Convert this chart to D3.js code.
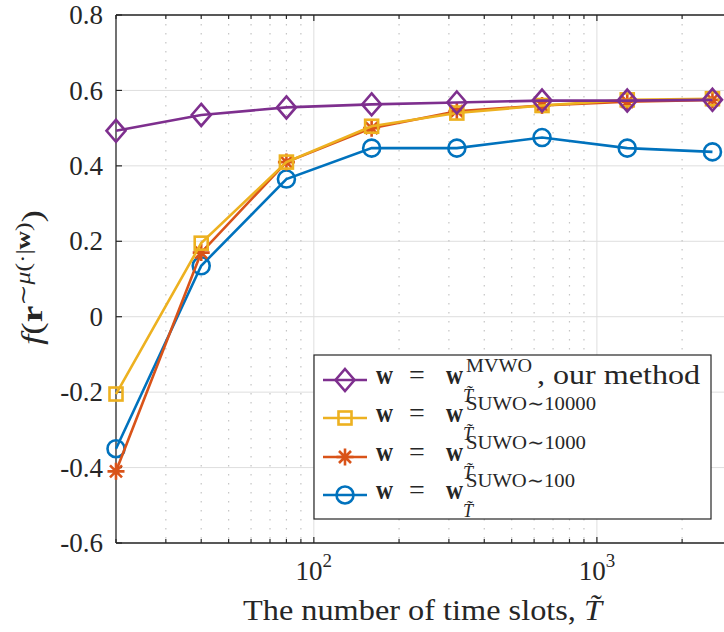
<!DOCTYPE html>
<html lang="en">
<head>
<meta charset="UTF-8">
<title>MVWO vs SUWO</title>
<script src="https://d3js.org/d3.v7.min.js"></script>
<style>
  body { margin: 0; background: #fff; }
  svg { display: block; }
  text { font-family: "Liberation Serif", "DejaVu Serif", serif; fill: #262626; }
</style>
</head>
<body>
<div class="chart"></div>
<script>
  /** data */
  var timeSlots = [20, 40, 80, 160, 320, 640, 1280, 2560];
  var mvwo = [0.493, 0.535, 0.555, 0.563, 0.568, 0.573, 0.573, 0.575];
  var suwo10000 = [-0.205, 0.195, 0.41, 0.505, 0.54, 0.56, 0.575, 0.578];
  var suwo1000 = [-0.41, 0.17, 0.41, 0.50, 0.545, 0.56, 0.57, 0.575];
  var suwo100 = [-0.35, 0.135, 0.365, 0.447, 0.447, 0.475, 0.447, 0.437];
  var yTicks = [-0.6, -0.4, -0.2, 0, 0.2, 0.4, 0.6, 0.8];
  var yTickLabels = ['-0.6', '-0.4', '-0.2', '0', '0.2', '0.4', '0.6', '0.8'];
  var xMajorTicks = [100, 1000];
  var xMinorTicks = [20, 30, 40, 50, 60, 70, 80, 90, 200, 300, 400, 500, 600, 700, 800, 900, 2000];

  var series = [
    { values: suwo100, color: '#0072BD', marker: 'circle', sup: 'SUWO\u223C100', supLen: 109 },
    { values: suwo1000, color: '#D95319', marker: 'star', sup: 'SUWO\u223C1000', supLen: 120 },
    { values: suwo10000, color: '#EDB120', marker: 'square', sup: 'SUWO\u223C10000', supLen: 130 },
    { values: mvwo, color: '#7E2F8E', marker: 'diamond', sup: 'MVWO', supLen: 66 }
  ];

  var width = 724, height = 632;
  var plotLeft = 116, plotTop = 15, plotBottom = 543, plotRight = 724;

  var svg = d3.select('.chart').append('svg')
    .attr('width', width)
    .attr('height', height);

  var x = d3.scaleLog().domain([20, 2812]).range([plotLeft, plotRight]);
  var y = d3.scaleLinear().domain([-0.6, 0.8]).range([plotBottom, plotTop]);

  /** grid */
  var grid = svg.append('g');
  grid.selectAll('.ygrid').data(yTicks).enter().append('line')
    .attr('x1', plotLeft).attr('x2', plotRight)
    .attr('y1', function (d) { return y(d); }).attr('y2', function (d) { return y(d); })
    .attr('stroke', '#dedede').attr('stroke-width', 1);
  grid.selectAll('.xgrid').data(xMajorTicks).enter().append('line')
    .attr('x1', function (d) { return x(d); }).attr('x2', function (d) { return x(d); })
    .attr('y1', plotTop).attr('y2', plotBottom)
    .attr('stroke', '#dedede').attr('stroke-width', 1);
  grid.selectAll('.xminor').data(xMinorTicks.filter(function (d) { return d > 20; })).enter().append('line')
    .attr('x1', function (d) { return x(d); }).attr('x2', function (d) { return x(d); })
    .attr('y1', plotTop).attr('y2', plotBottom)
    .attr('stroke', '#c4c4c4').attr('stroke-width', 1.2)
    .attr('stroke-dasharray', '1.5,7.5');

  /** axes lines + ticks */
  var axisColor = '#262626';
  svg.append('line').attr('x1', plotLeft).attr('x2', plotLeft).attr('y1', plotTop).attr('y2', plotBottom)
    .attr('stroke', axisColor).attr('stroke-width', 1.3);
  svg.append('line').attr('x1', plotLeft).attr('x2', plotRight).attr('y1', plotBottom).attr('y2', plotBottom)
    .attr('stroke', axisColor).attr('stroke-width', 1.3);
  svg.append('line').attr('x1', plotLeft).attr('x2', plotRight).attr('y1', plotTop).attr('y2', plotTop)
    .attr('stroke', axisColor).attr('stroke-width', 1.3);

  svg.selectAll('.ytick').data(yTicks).enter().append('line')
    .attr('x1', plotLeft).attr('x2', plotLeft + 6)
    .attr('y1', function (d) { return y(d); }).attr('y2', function (d) { return y(d); })
    .attr('stroke', axisColor).attr('stroke-width', 1.2);

  var allX = xMajorTicks.concat(xMinorTicks);
  [plotBottom, plotTop].forEach(function (yy) {
    var dir = yy === plotBottom ? -1 : 1;
    svg.append('g').selectAll('line').data(allX).enter().append('line')
      .attr('x1', function (d) { return x(d); }).attr('x2', function (d) { return x(d); })
      .attr('y1', yy).attr('y2', function (d) { return yy + dir * (xMajorTicks.indexOf(d) >= 0 ? 6 : 4); })
      .attr('stroke', axisColor).attr('stroke-width', 1.2);
  });

  /** tick labels */
  svg.selectAll('.ylabel').data(yTicks).enter().append('text')
    .attr('x', plotLeft - 13)
    .attr('y', function (d) { return y(d); })
    .attr('dy', '0.34em')
    .attr('text-anchor', 'end')
    .style('font-size', '27px')
    .text(function (d, i) { return yTickLabels[i]; });

  xMajorTicks.forEach(function (d) {
    var t = svg.append('text')
      .attr('x', x(d))
      .attr('y', plotBottom + 37)
      .attr('text-anchor', 'middle')
      .style('font-size', '27px');
    t.append('tspan').text('10');
    t.append('tspan').attr('dy', -13).style('font-size', '19px').text(Math.log10(d));
  });

  /** x title */
  var xt = svg.append('text')
    .attr('x', 243).attr('y', 620)
    .attr('textLength', 359).attr('lengthAdjust', 'spacingAndGlyphs')
    .style('font-size', '29px');
  xt.append('tspan').text('The number of time slots, ');
  xt.append('tspan').style('font-style', 'italic').text('T\u0303');

  /** y title */
  var yt = svg.append('text')
    .attr('transform', 'translate(42,345) rotate(-90)')
    .attr('textLength', 135).attr('lengthAdjust', 'spacingAndGlyphs')
    .style('font-size', '29px');
  yt.append('tspan').style('font-style', 'italic').text('f');
  yt.append('tspan').text('(');
  yt.append('tspan').style('font-weight', 'bold').text('r');
  yt.append('tspan').attr('dy', -12).style('font-size', '20px').text('\u223C');
  yt.append('tspan').style('font-size', '20px').style('font-style', 'italic').text('\u03BC');
  yt.append('tspan').style('font-size', '20px').text('(\u00B7|');
  yt.append('tspan').style('font-size', '20px').style('font-weight', 'bold').text('w');
  yt.append('tspan').style('font-size', '20px').text(')');
  yt.append('tspan').attr('dy', 12).text(')');

  /** markers */
  function drawMarker(g, type, color) {
    if (type === 'circle') {
      g.append('circle').attr('r', 8.5).attr('fill', 'none').attr('stroke', color).attr('stroke-width', 2.6);
    } else if (type === 'square') {
      g.append('rect').attr('x', -6.5).attr('y', -6.5).attr('width', 13).attr('height', 13)
        .attr('fill', 'none').attr('stroke', color).attr('stroke-width', 2.6);
    } else if (type === 'diamond') {
      g.append('path').attr('d', 'M0,-11L9.5,0L0,11L-9.5,0Z')
        .attr('fill', 'none').attr('stroke', color).attr('stroke-width', 2.6);
    } else if (type === 'star') {
      var r = 8.5, d = '';
      [0, 45, 90, 135].forEach(function (a) {
        var rad = a * Math.PI / 180;
        d += 'M' + (-r * Math.cos(rad)) + ',' + (-r * Math.sin(rad)) + 'L' + (r * Math.cos(rad)) + ',' + (r * Math.sin(rad));
      });
      g.append('path').attr('d', d).attr('stroke', color).attr('stroke-width', 2.6);
    }
  }

  var line = d3.line()
    .x(function (d, i) { return x(timeSlots[i]); })
    .y(function (d) { return y(d); });

  series.forEach(function (s) {
    svg.append('path').datum(s.values)
      .attr('d', line)
      .attr('fill', 'none')
      .attr('stroke', s.color)
      .attr('stroke-width', 2.6);
    s.values.forEach(function (v, i) {
      var g = svg.append('g').attr('transform', 'translate(' + x(timeSlots[i]) + ',' + y(v) + ')');
      drawMarker(g, s.marker, s.color);
    });
  });

  /** legend */
  var legend = svg.append('g');
  legend.append('rect')
    .attr('x', 314).attr('y', 355).attr('width', 397).attr('height', 164)
    .attr('fill', '#fff').attr('stroke', axisColor).attr('stroke-width', 1.2);

  var legendOrder = series.slice().reverse();
  var rowY = [380, 418, 457, 495];
  legendOrder.forEach(function (s, i) {
    var cy = rowY[i];
    legend.append('line').attr('x1', 323).attr('x2', 367).attr('y1', cy).attr('y2', cy)
      .attr('stroke', s.color).attr('stroke-width', 2.6);
    var g = legend.append('g').attr('transform', 'translate(345,' + cy + ')');
    drawMarker(g, s.marker, s.color);

    legend.append('text').attr('x', 376).attr('y', cy + 4)
      .attr('textLength', 17).attr('lengthAdjust', 'spacingAndGlyphs')
      .style('font-size', '28px').style('font-weight', 'bold').text('w');
    legend.append('text').attr('x', 417).attr('y', cy + 4).attr('text-anchor', 'middle')
      .style('font-size', '28px').text('=');
    legend.append('text').attr('x', 446).attr('y', cy + 4)
      .attr('textLength', 17).attr('lengthAdjust', 'spacingAndGlyphs')
      .style('font-size', '28px').style('font-weight', 'bold').text('w');
    legend.append('text').attr('x', 466).attr('y', cy - 8)
      .attr('textLength', s.supLen).attr('lengthAdjust', 'spacingAndGlyphs')
      .style('font-size', '19px').text(s.sup);
    legend.append('text').attr('x', 463).attr('y', cy + 22).style('font-size', '18px')
      .style('font-style', 'italic').text('T\u0303');
    if (s.marker === 'diamond') {
      legend.append('text').attr('x', 537).attr('y', cy + 4)
        .attr('textLength', 163).attr('lengthAdjust', 'spacingAndGlyphs')
        .style('font-size', '28px').text(', our method');
    }
  });
</script>
</body>
</html>
